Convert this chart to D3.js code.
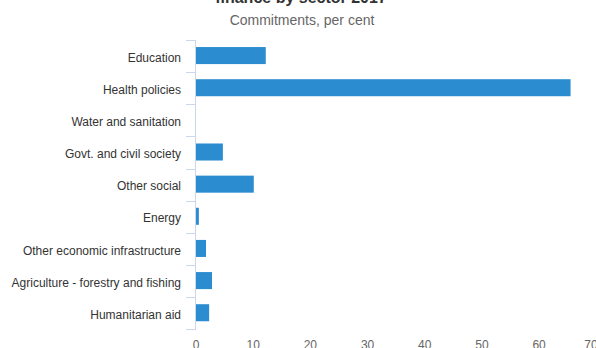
<!DOCTYPE html>
<html>
<head>
<meta charset="utf-8">
<script src="https://cdn.jsdelivr.net/npm/d3@7"></script>
<style>
  html, body { margin: 0; padding: 0; background: #fff; }
  svg { display: block; font-family: "Liberation Sans", Arial, sans-serif; }
</style>
</head>
<body>
<svg id="chart" width="596" height="348"></svg>
<script>
const titleText = "finance by sector 2017";
const subtitleText = "Commitments, per cent";
const categories = [
  "Education",
  "Health policies",
  "Water and sanitation",
  "Govt. and civil society",
  "Other social",
  "Energy",
  "Other economic infrastructure",
  "Agriculture - forestry and fishing",
  "Humanitarian aid"
];
const values = [12.2, 65.5, 0, 4.7, 10.1, 0.5, 1.75, 2.8, 2.3];
const xTicks = [0, 10, 20, 30, 40, 50, 60, 70];

(function () {
const svg = d3.select("#chart");
const plotLeft = 196, plotRight = 596.3, plotTop = 40, plotBottom = 329.3;

const x = d3.scaleLinear().domain([0, 70]).range([plotLeft, plotRight]);
const y = d3.scaleBand().domain(categories).range([plotTop, plotBottom])
  .paddingInner(0.47).paddingOuter(0.235);

// title & subtitle
svg.append("text").attr("x", 301).attr("y", 3)
  .attr("text-anchor", "middle").attr("font-size", 16).attr("font-weight", "bold")
  .attr("fill", "#333").text(titleText);
svg.append("text").attr("x", 302).attr("y", 25)
  .attr("text-anchor", "middle").attr("font-size", 14)
  .attr("fill", "#666").text(subtitleText);

// bars
svg.append("g").selectAll("rect").data(categories).join("rect")
  .attr("x", x(0))
  .attr("y", d => y(d) - 0.5)
  .attr("width", (d, i) => x(values[i]) - x(0))
  .attr("height", y.bandwidth())
  .attr("fill", "#2b8dd0");

// category axis line
svg.append("line").attr("x1", plotLeft - 0.5).attr("x2", plotLeft - 0.5)
  .attr("y1", plotTop).attr("y2", plotBottom)
  .attr("stroke", "#ccd6eb").attr("stroke-width", 1);

// category tick marks at band boundaries
const step = y.step();
const boundaries = categories.map(c => y(c) - (step - y.bandwidth()) / 2).concat([plotBottom]);
svg.append("g").selectAll("line").data(boundaries).join("line")
  .attr("x1", plotLeft - 10).attr("x2", plotLeft)
  .attr("y1", d => Math.round(d) + 0.5).attr("y2", d => Math.round(d) + 0.5)
  .attr("stroke", "#ccd6eb").attr("stroke-width", 1);

// category labels
svg.append("g").selectAll("text").data(categories).join("text")
  .attr("x", 181)
  .attr("y", d => y(d) + y.bandwidth() / 2 + 1.5)
  .attr("dy", "0.35em")
  .attr("text-anchor", "end")
  .attr("font-size", 12)
  .attr("fill", "#333")
  .text(d => d);

// value axis labels
svg.append("g").selectAll("text").data(xTicks).join("text")
  .attr("x", d => d === 70 ? Math.min(x(d), 591) : x(d))
  .attr("y", 349)
  .attr("text-anchor", "middle")
  .attr("font-size", 12)
  .attr("fill", "#666")
  .text(d => d);
})();
</script>
</body>
</html>
